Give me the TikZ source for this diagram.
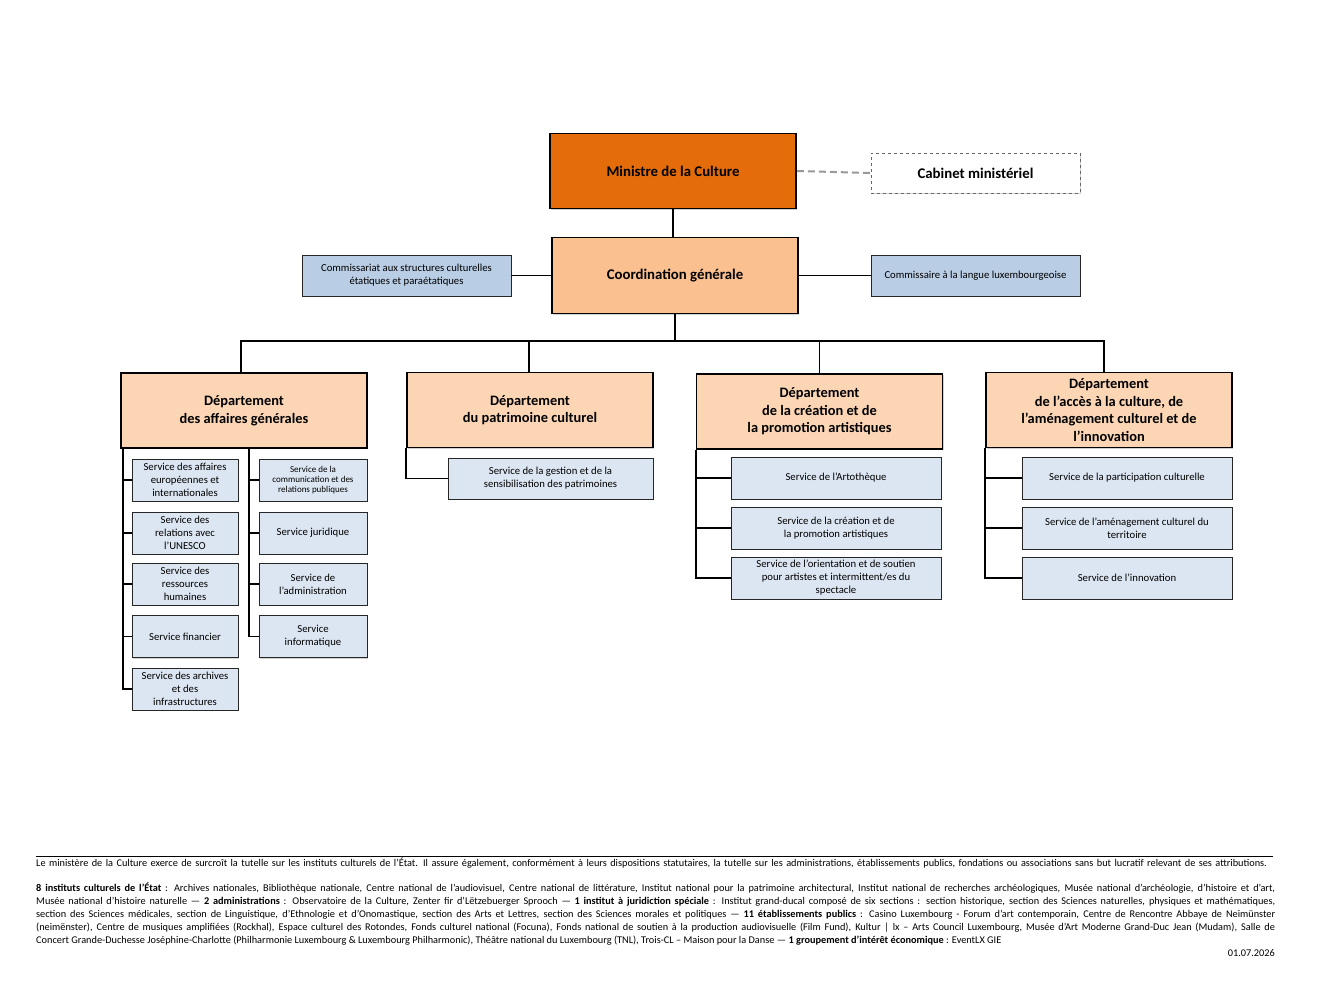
\documentclass[tikz,border=0pt]{standalone}
\usepackage{fontspec}
\setmainfont{Carlito}
\usepackage{xcolor}
\usetikzlibrary{positioning,shadows}
\definecolor{minfill}{RGB}{228,108,10}
\definecolor{coordfill}{RGB}{250,192,144}
\definecolor{deptfill}{RGB}{252,213,180}
\definecolor{commfill}{RGB}{185,205,229}
\definecolor{servfill}{RGB}{220,230,242}
\tikzset{
  shade/.style={drop shadow={shadow xshift=1.2pt,shadow yshift=-1.2pt,fill=black!40,opacity=.45}},
  big box/.style={draw=black,line width=1.6pt,align=center,inner sep=2pt,
    minimum width=246pt,minimum height=75pt,shade},
  style min/.style={big box,fill=minfill,font=\fontsize{14.8}{17}\selectfont\bfseries},
  style coord/.style={big box,fill=coordfill,minimum height=76pt,font=\fontsize{14.8}{17}\selectfont\bfseries},
  style dept/.style={big box,fill=deptfill,font=\fontsize{14.4}{17.6}\selectfont\bfseries},
  style comm/.style={draw=black!85,line width=.8pt,fill=commfill,align=center,inner sep=1pt,
    minimum width=209pt,minimum height=41pt,shade,font=\fontsize{10.7}{13}\selectfont},
  style cab/.style={draw=black!60,dashed,line width=.7pt,fill=white,align=center,
    minimum width=209pt,minimum height=40pt,shade,font=\fontsize{14.8}{17}\selectfont\bfseries},
  serv/.style={draw=black!85,line width=.8pt,fill=servfill,align=center,inner sep=1pt,
    minimum height=42pt,shade,font=\fontsize{10.7}{13}\selectfont,#1},
  link/.style={draw=black,line width=1.8pt},
  foot/.style={inner sep=0pt,font=\fontsize{10.3}{13}\selectfont}
}

\begin{document}
\begin{tikzpicture}[x=1pt,y=-1pt]
  \useasboundingbox (0,0) rectangle (1344,1008);

  % top of the chart
  \node[style min]   (M)   at (673,171)     {Ministre de la Culture};
  \node[style cab]   (CAB) at (975.5,173)   {Cabinet ministériel};
  \node[style coord] (C)   at (675,275.5)   {Coordination générale};
  \node[style comm]  (CS)  at (406.5,275.5) {Commissariat aux structures culturelles\\étatiques et paraétatiques};
  \node[style comm]  (CL)  at (975.5,275.5) {Commissaire à la langue luxembourgeoise};

  % departments
  \node[style dept] (D1) at (244,410.5)   {Département\\des affaires générales};
  \node[style dept] (D2) at (530,410)     {Département\\du patrimoine culturel};
  \node[style dept] (D3) at (819.5,411.5) {Département\\de la création et de\\la promotion artistiques};
  \node[style dept] (D4) at (1109,410)    {Département\\de l’accès à la culture, de\\l’aménagement culturel et de\\l’innovation};

  % services
  \node[serv={minimum width=106pt}] (S11) at (185,480)   {Service des affaires\\européennes et\\internationales};
  \node[serv={minimum width=106pt}] (S12) at (185,533)   {Service des\\relations avec\\l’UNESCO};
  \node[serv={minimum width=106pt}] (S13) at (185,584)   {Service des\\ressources\\humaines};
  \node[serv={minimum width=106pt}] (S14) at (185,636.5) {Service financier};
  \node[serv={minimum width=106pt}] (S15) at (185,689)   {Service des archives\\et des\\infrastructures};
  \node[serv={minimum width=108pt,font=\fontsize{9}{10.3}\selectfont}] (S16) at (313,480) {Service de la\\communication et des\\relations publiques};
  \node[serv={minimum width=108pt}] (S17) at (313,533)   {Service juridique};
  \node[serv={minimum width=108pt}] (S18) at (313,584)   {Service de\\l’administration};
  \node[serv={minimum width=108pt}] (S19) at (313,636.5) {Service\\informatique};

  \node[serv={minimum width=205pt,minimum height=41pt}] (S21) at (550.5,478.5) {Service de la gestion et de la\\sensibilisation des patrimoines};

  \node[serv={minimum width=210pt}] (S31) at (836,478) {Service de l’Artothèque};
  \node[serv={minimum width=210pt}] (S32) at (836,528) {Service de la création et de\\la promotion artistiques};
  \node[serv={minimum width=210pt}] (S33) at (836,578) {Service de l’orientation et de soutien\\pour artistes et intermittent/es du\\spectacle};

  \node[serv={minimum width=210pt}] (S41) at (1127,478) {Service de la participation culturelle};
  \node[serv={minimum width=210pt}] (S42) at (1127,528) {Service de l’aménagement culturel du\\territoire};
  \node[serv={minimum width=210pt}] (S43) at (1127,578) {Service de l’innovation};

  % connectors
  \draw[draw=black!40,line width=2pt,dash pattern=on 7pt off 4pt] (M.east) -- (CAB.west);
  \draw[link] (M.south) -- (M.south |- C.north);
  \draw[link] (CS) -- (C);
  \draw[link] (C) -- (CL);
  \coordinate (bus) at (675,341);
  \draw[link] (C.south) -- (bus);
  \draw[link] (bus) -| ([xshift=-3pt]D1.north);
  \draw[link] (bus) -| ([xshift=-1pt]D2.north);
  \draw[link] (bus) -| (D3.north);
  \draw[link] (bus) -| ([xshift=-5pt]D4.north);

  \coordinate (D1a) at (123,448);
  \coordinate (D1b) at (249,448);
  \foreach \s in {S11,S12,S13,S14,S15}
    \draw[link] (D1a) |- (\s.west);
  \foreach \s in {S16,S17,S18,S19}
    \draw[link] (D1b) |- (\s.west);
  \draw[link] (D2.south west) |- (S21.west);
  \foreach \s in {S31,S32,S33}
    \draw[link] (D3.south west) |- (\s.west);
  \foreach \s in {S41,S42,S43}
    \draw[link] (D4.south west) |- (\s.west);

  % notes at the bottom
  \coordinate (R1) at (36,856);
  \coordinate (R2) at (1273,856);
  \draw[line width=.6pt] (R1) -- (R2);
  \node[foot,anchor=north west,text width=1239pt,align=left] (N1) at (36,858)
    {Le ministère de la Culture exerce de surcroît la tutelle sur les instituts culturels de l’État. Il assure également, conformément à leurs dispositions statutaires, la tutelle sur les administrations, établissements publics, fondations ou associations sans but lucratif relevant de ses attributions.};
  \node[foot,anchor=north west,text width=1239pt,align=justify] (N2) at (36,883)
    {\textbf{8 instituts culturels de l’État} : Archives nationales, Bibliothèque nationale, Centre national de l’audiovisuel, Centre national de littérature, Institut national pour la patrimoine architectural, Institut national de recherches archéologiques, Musée national d’archéologie, d’histoire et d’art,\linebreak
    Musée national d’histoire naturelle — \textbf{2 administrations} : Observatoire de la Culture, Zenter fir d’Lëtzebuerger Sprooch — \textbf{1 institut à juridiction spéciale} : Institut grand-ducal composé de six sections : section historique, section des Sciences naturelles, physiques et mathématiques,\linebreak
    section des Sciences médicales, section de Linguistique, d’Ethnologie et d’Onomastique, section des Arts et Lettres, section des Sciences morales et politiques — \textbf{11 établissements publics} : Casino Luxembourg - Forum d’art contemporain, Centre de Rencontre Abbaye de Neimünster\linebreak
    (neimënster), Centre de musiques amplifiées (Rockhal), Espace culturel des Rotondes, Fonds culturel national (Focuna), Fonds national de soutien à la production audiovisuelle (Film Fund), Kultur | lx – Arts Council Luxembourg, Musée d’Art Moderne Grand-Duc Jean (Mudam), Salle de\linebreak
    Concert Grande-Duchesse Joséphine-Charlotte (Philharmonie Luxembourg \& Luxembourg Philharmonic), Théâtre national du Luxembourg (TNL), Trois-CL – Maison pour la Danse — \textbf{1 groupement d’intérêt économique} : EventLX GIE\par};
  \node[foot,anchor=east] (DT) at (1275,953) {01.07.2026};
\end{tikzpicture}
\end{document}
